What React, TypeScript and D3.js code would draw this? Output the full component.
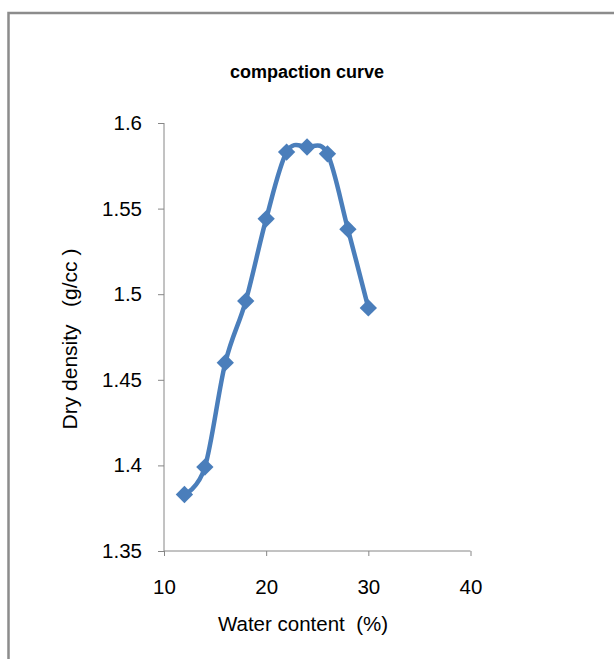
import { useEffect, useRef } from "react"
import * as d3 from "d3"

const waterContent = [12, 14, 16, 18, 20, 22, 24, 26, 28, 30]
const dryDensity = [1.383, 1.399, 1.46, 1.496, 1.544, 1.583, 1.586, 1.582, 1.538, 1.492]
const xTicks = [10, 20, 30, 40]
const yTicks = [1.35, 1.4, 1.45, 1.5, 1.55, 1.6]

const W = 614
const H = 659

export default function App() {
  const ref = useRef<SVGSVGElement>(null)

  useEffect(() => {
    if (!ref.current) return
    const svg = d3.select(ref.current)
    svg.selectAll("*").remove()

    const font = "'Liberation Sans', Arial, sans-serif"
    const axisColor = "#868686"
    const blue = "#4a7ebb"

    // outer frame (runs off the right / bottom edges)
    svg.append("rect")
      .attr("x", 8.5).attr("y", 13)
      .attr("width", W + 20).attr("height", H + 20)
      .attr("fill", "#fff")
      .attr("stroke", "#8c8c8c")
      .attr("stroke-width", 2.5)

    const x = d3.scaleLinear().domain([10, 40]).range([164, 470.5])
    const y = d3.scaleLinear().domain([1.35, 1.6]).range([551, 123])

    // title
    svg.append("text")
      .attr("x", 307).attr("y", 78)
      .attr("text-anchor", "middle")
      .attr("font-family", font)
      .attr("font-weight", "bold")
      .attr("font-size", 18)
      .attr("fill", "#000")
      .text("compaction curve")

    // Y axis
    const gy = svg.append("g").attr("transform", `translate(${x(10)},0)`)
    gy.call(d3.axisLeft(y).tickValues(yTicks).tickSize(6).tickPadding(16).tickFormat((d) => String(+d)))
    gy.select(".domain").attr("stroke", axisColor).attr("d", `M0,${y(1.35)}V${y(1.6)}`)
    gy.selectAll(".tick line").attr("stroke", axisColor)
    gy.selectAll(".tick text")
      .attr("font-family", font).attr("font-size", 20.5).attr("fill", "#000")

    // X axis
    const gx = svg.append("g").attr("transform", `translate(0,${y(1.35)})`)
    gx.call(d3.axisBottom(x).tickValues(xTicks).tickSize(5).tickPadding(23).tickFormat((d) => String(d)))
    gx.select(".domain").attr("stroke", axisColor).attr("d", `M${x(10)},0H${x(40)}`)
    gx.selectAll(".tick line").attr("stroke", axisColor)
    gx.selectAll(".tick text")
      .attr("font-family", font).attr("font-size", 20.5).attr("fill", "#000")

    // axis titles
    svg.append("text")
      .attr("x", 303).attr("y", 631)
      .attr("text-anchor", "middle")
      .attr("font-family", font).attr("font-size", 20.5)
      .attr("fill", "#000")
      .style("white-space", "pre")
      .text("Water content  (%)")

    svg.append("text")
      .attr("transform", `translate(77,339) rotate(-90)`)
      .attr("text-anchor", "middle")
      .attr("font-family", font).attr("font-size", 21)
      .attr("fill", "#000")
      .style("white-space", "pre")
      .text("Dry density   (g/cc )")

    // smoothed line
    const pts = waterContent.map((w, i) => [w, dryDensity[i]] as [number, number])
    const line = d3.line<[number, number]>()
      .x((d) => x(d[0]))
      .y((d) => y(d[1]))
      .curve(d3.curveCardinal.tension(0))

    svg.append("path")
      .datum(pts)
      .attr("fill", "none")
      .attr("stroke", blue)
      .attr("stroke-width", 4.5)
      .attr("stroke-linejoin", "round")
      .attr("d", line)

    // diamond markers
    const diamond = d3.symbol().type(d3.symbolSquare).size(150)
    svg.selectAll("path.marker")
      .data(pts)
      .join("path")
      .attr("class", "marker")
      .attr("transform", (d) => `translate(${x(d[0])},${y(d[1])}) rotate(45)`)
      .attr("d", diamond)
      .attr("fill", blue)
  }, [])

  return (
    <div style={{ position: "absolute", left: 0, top: 0 }}>
      <svg ref={ref} width={W} height={H} style={{ display: "block" }} />
    </div>
  )
}
